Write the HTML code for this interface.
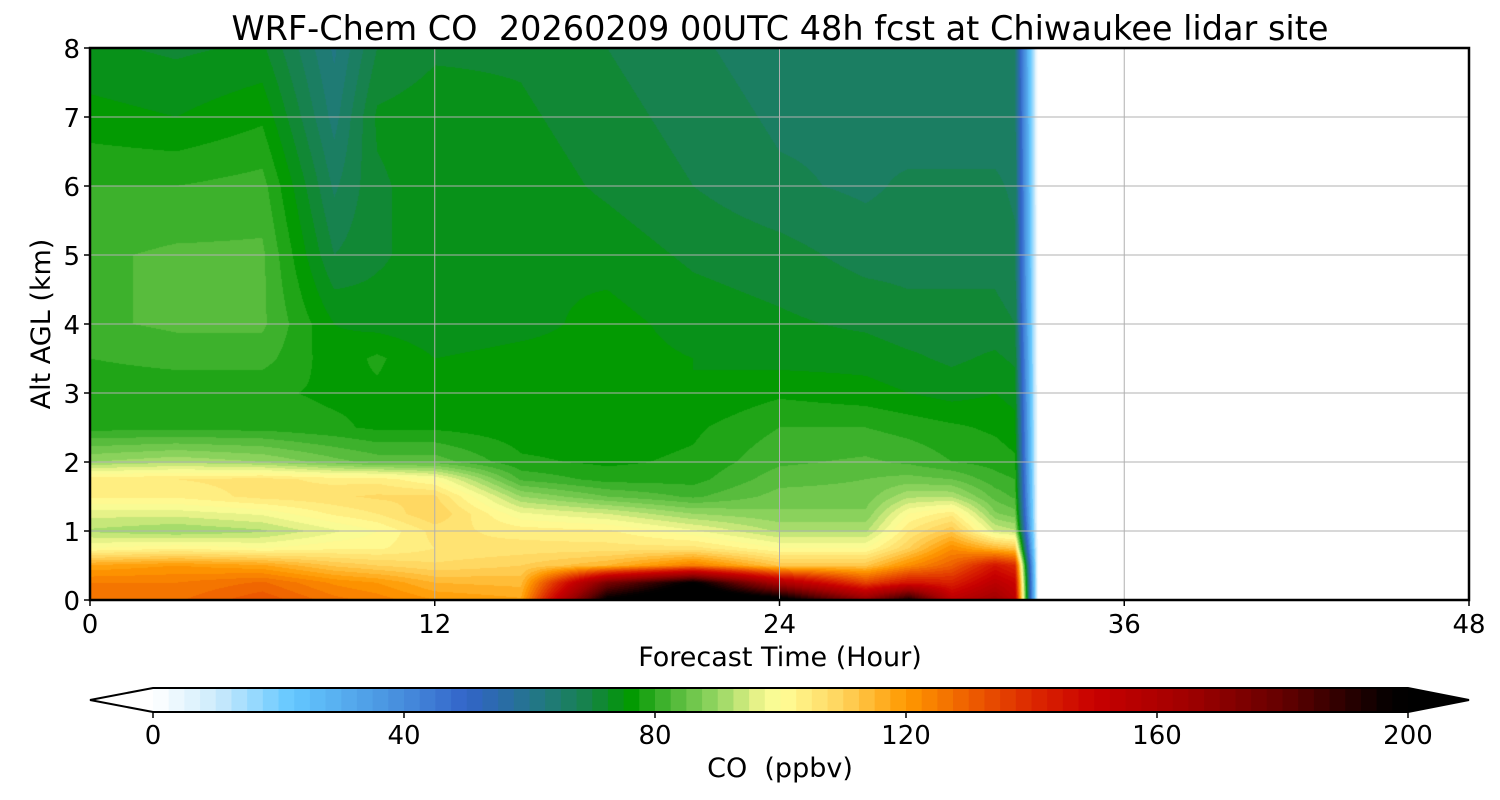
<!DOCTYPE html>
<html><head><meta charset="utf-8">
<style>
body{margin:0;background:#fff;font-family:"DejaVu Sans","Liberation Sans",sans-serif;}
#wrap{position:relative;width:1500px;height:800px;overflow:hidden;}
canvas{position:absolute;left:90px;top:48px;}
svg{position:absolute;left:0;top:0;}
text{white-space:pre;}
</style></head><body>
<div id="wrap">
<canvas id="cv" width="1379" height="552"></canvas>
<svg id="sv" width="1500" height="800"></svg>
</div>
<script>
// ---- data ----
const times = [0,3,6,8.5,10,12,15,18,21,24,27,28.5,30,31.5,32.2,33];
const heights = [0,0.25,0.5,0.75,1,1.25,1.5,1.75,2,2.5,3,3.5,4,5,6,7,8];
const coValues = [
 [125,125,118,100,92,96,103,104,90,79,78,80,82,82,80,76,73],
 [127,125,120,102,90,96,103,105,92,79,78,81,83,83,80,75,72],
 [132,128,118,100,92,98,106,106,90,79,78,81,83,83,81,77,73],
 [126,122,112,102,97,103,107,104,86,78,77,76,75,70,67,64,62],
 [124,120,110,102,100,105,108,104,84,77,77,78,74,72,72,73,70],
 [120,115,108,105,106,110,108,100,84,77,75,75,73,74,74,74,72],
 [118,114,110,106,104,98,90,82,78,76,76,76,74,75,74,73,72],
 [200,175,115,106,103,95,85,79,77,76,76,76,76,74,72,71,70],
 [215,200,125,106,98,90,82,79,78,77,75,75,74,72,70,69,68],
 [205,160,112,100,92,88,86,84,82,80,77,74,73,71,68,67,66],
 [170,135,112,100,92,88,86,85,83,80,76,74,72,69,67,67,65],
 [195,145,122,110,105,100,92,86,82,79,75,73,71,69,68,66,65],
 [155,142,130,122,112,104,92,85,80,78,74,72,71,69,68,66,65],
 [165,155,145,115,95,88,84,81,79,77,75,73,71,69,68,66,65],
 [155,150,140,112,93,86,82,80,78,76,74,72,70,68,67,66,65],
 [0,0,0,0,0,0,0,0,0,0,0,0,0,0,0,0,0]
];
const xTicks = [0,12,24,36,48];
const yTicks = [0,1,2,3,4,5,6,7,8];
const cbTicks = [0,40,80,120,160,200];

// colormap anchors (style)
const cmap=[[0,[255,255,255]],[10,[205,235,252]],[22,[100,200,255]],[40,[70,140,220]],[50,[50,100,200]],[57,[40,110,160]],[63,[32,122,122]],[68,[25,128,85]],[72,[15,138,45]],[76,[0,153,0]],[82,[70,180,50]],[90,[150,215,100]],[97,[240,245,140]],[100,[255,255,153]],[110,[255,210,90]],[120,[255,153,0]],[130,[238,95,0]],[140,[220,40,0]],[150,[200,0,0]],[165,[160,0,0]],[180,[100,0,0]],[197,[5,0,0]],[200,[0,0,0]]];
function col(v){v=Math.max(0,Math.min(200,v));
 for(let i=1;i<cmap.length;i++){if(v<=cmap[i][0]){const a=cmap[i-1],b=cmap[i];const f=(v-a[0])/(b[0]-a[0]);return a[1].map((c,k)=>Math.round(c+(b[1][k]-c)*f));}}
 return [0,0,0];}
const X0=90,X1=1469,Y0=600,Y1=48;
const xs=t=>X0+(t/48)*(X1-X0), ys=h=>Y0-(h/8)*(Y0-Y1);
const cbx=v=>153+(v/200)*(1408-153);

// heatmap
(function(){
 const cv=document.getElementById('cv'),ctx=cv.getContext('2d');
 const W=cv.width,H=cv.height,img=ctx.createImageData(W,H);
 const tMax=times[times.length-1];
 function idx(arr,v){for(let i=0;i<arr.length-1;i++){if(v<=arr[i+1])return i;}return arr.length-2;}
 for(let px=0;px<W;px++){
  const t=(px+0.5)/W*48; if(t>tMax) continue;
  const i=idx(times,t),ft=(t-times[i])/(times[i+1]-times[i]);
  for(let py=0;py<H;py++){
   const h=(H-py-0.5)/H*8,j=idx(heights,h),fh=(h-heights[j])/(heights[j+1]-heights[j]);
   const v=(coValues[i][j]*(1-ft)+coValues[i+1][j]*ft)*(1-fh)+(coValues[i][j+1]*(1-ft)+coValues[i+1][j+1]*ft)*fh;
   const q=Math.floor(v/2.5)*2.5+1.25;
   const c=col(q),o=(py*W+px)*4;
   img.data[o]=c[0];img.data[o+1]=c[1];img.data[o+2]=c[2];img.data[o+3]=255;
  }}
 ctx.putImageData(img,0,0);
})();

const NS='http://www.w3.org/2000/svg',sv=document.getElementById('sv');
function mk(tag,at,txt){const e=document.createElementNS(NS,tag);for(const k in at)e.setAttribute(k,at[k]);if(txt!==undefined)e.textContent=txt;sv.appendChild(e);return e;}
// grid
xTicks.forEach(t=>{if(t>0&&t<48){const e=mk('line',{x1:xs(t),x2:xs(t),y1:Y1,y2:Y0,stroke:'#b0b0b0','stroke-width':1});

}});
yTicks.forEach(h=>{if(h>0&&h<8){const e=mk('line',{x1:X0,x2:X1,y1:ys(h),y2:ys(h),stroke:'#b0b0b0','stroke-width':1});

}});
// frame
const fr=mk('rect',{x:X0,y:Y1,width:X1-X0,height:Y0-Y1,fill:'none',stroke:'#000','stroke-width':2.5});


// ticks
xTicks.forEach(t=>{mk('line',{x1:xs(t),x2:xs(t),y1:Y0,y2:Y0+6,stroke:'#000','stroke-width':1.5});
const e=mk('text',{x:xs(t),y:Y0+33,'text-anchor':'middle','font-size':26},String(t));

});
yTicks.forEach(h=>{mk('line',{x1:X0-6,x2:X0,y1:ys(h),y2:ys(h),stroke:'#000','stroke-width':1.5});
const e=mk('text',{x:X0-10,y:ys(h)+10,'text-anchor':'end','font-size':26},String(h));

});
let e;
e=mk('text',{x:780,y:40,'text-anchor':'middle','font-size':33.5},'WRF-Chem CO  20260209 00UTC 48h fcst at Chiwaukee lidar site');


e=mk('text',{x:780,y:666,'text-anchor':'middle','font-size':27},'Forecast Time (Hour)');


e=mk('text',{x:0,y:0,'text-anchor':'middle','font-size':27,transform:'translate(50,324) rotate(-90)'},'Alt AGL (km)');


// colorbar
for(let v=0;v<200;v+=2.5){const c=col(v+1.25);const r=mk('rect',{x:cbx(v),y:688,width:cbx(v+2.5)-cbx(v)+0.6,height:24,fill:`rgb(${c})`});

}
e=mk('polygon',{points:`153,688 90,700 153,712`,fill:'#fff',stroke:'none'});


e=mk('polygon',{points:`1408,688 1469,700 1408,712`,fill:'#000'});


e=mk('polygon',{points:`153,688 1408,688 1469,700 1408,712 153,712 90,700`,fill:'none',stroke:'#000','stroke-width':2});


cbTicks.forEach(v=>{mk('line',{x1:cbx(v),x2:cbx(v),y1:712,y2:718,stroke:'#000','stroke-width':1.5});
const t=mk('text',{x:cbx(v),y:744,'text-anchor':'middle','font-size':26},String(v));

});
e=mk('text',{x:780,y:777,'text-anchor':'middle','font-size':27},'CO  (ppbv)');


</script>
</body></html>
